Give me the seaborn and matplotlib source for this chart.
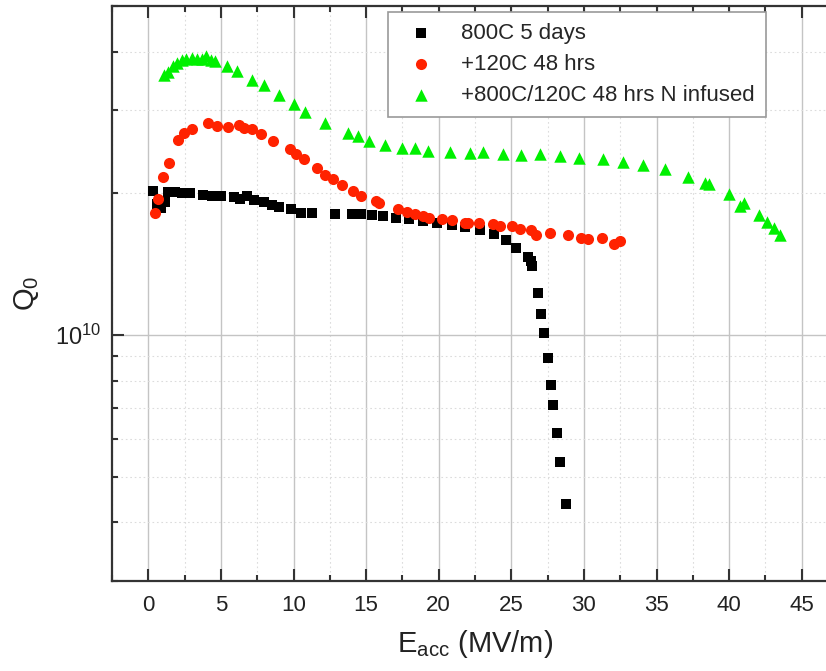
import seaborn as sns
import matplotlib
matplotlib.use("Agg")
import matplotlib.pyplot as plt
import matplotlib.ticker as mticker
import pandas as pd
import numpy as np

sns.set_theme(style="ticks")
plt.rcParams['font.family'] = ['Liberation Sans', 'DejaVu Sans']
plt.rcParams['mathtext.fontset'] = 'custom'
plt.rcParams['mathtext.rm'] = 'Liberation Sans'
plt.rcParams['mathtext.it'] = 'Liberation Sans:italic'

# 800C 5 days
e_800 = [0.31, 0.59, 0.86, 1.14, 1.34, 1.83, 2.31, 2.86, 3.78, 4.38, 5.00, 5.89,
         6.31, 6.79, 7.27, 7.96, 8.51, 8.99, 9.82, 10.51, 11.27, 12.85, 14.00,
         14.65, 15.38, 16.18, 17.06, 17.93, 18.94, 19.86, 20.90, 21.81, 22.85,
         23.78, 24.64, 25.33, 26.18, 26.36, 26.41, 26.82, 27.07, 27.27, 27.51,
         27.74, 27.90, 28.13, 28.37, 28.74]
q_800 = [2.019, 1.894, 1.858, 1.913, 2.009, 2.012, 2.006, 1.999, 1.984, 1.975,
         1.970, 1.960, 1.948, 1.977, 1.932, 1.913, 1.885, 1.871, 1.848, 1.820,
         1.813, 1.808, 1.808, 1.808, 1.797, 1.789, 1.775, 1.760, 1.746, 1.729,
         1.715, 1.697, 1.675, 1.635, 1.589, 1.531, 1.466, 1.434, 1.401, 1.230,
         1.110, 1.010, 0.8954, 0.7830, 0.7090, 0.6185, 0.5360, 0.4364]

# +120C 48 hrs
e_120 = [0.45, 0.68, 0.98, 1.43, 2.03, 2.45, 3.01, 4.12, 4.74, 5.50, 6.26, 6.57,
         7.15, 7.77, 8.56, 9.77, 10.19, 10.72, 11.59, 12.20, 12.75, 13.35, 14.07,
         14.63, 15.67, 15.90, 17.18, 17.85, 18.40, 18.90, 19.33, 20.26, 20.90,
         21.81, 22.04, 22.76, 23.74, 24.22, 25.05, 25.57, 26.36, 26.73, 27.64,
         28.91, 29.81, 30.31, 31.25, 32.08, 32.49]
q_120 = [1.813, 1.942, 2.168, 2.318, 2.591, 2.681, 2.745, 2.815, 2.778, 2.767,
         2.788, 2.751, 2.738, 2.668, 2.582, 2.479, 2.419, 2.366, 2.262, 2.188,
         2.144, 2.081, 2.027, 1.973, 1.925, 1.904, 1.852, 1.827, 1.804, 1.789,
         1.775, 1.760, 1.752, 1.730, 1.726, 1.732, 1.718, 1.705, 1.701, 1.682,
         1.672, 1.630, 1.650, 1.628, 1.610, 1.602, 1.610, 1.564, 1.583]

# +800C/120C 48 hrs N infused
e_nin = [1.07, 1.34, 1.71, 1.98, 2.29, 2.63, 2.98, 3.32, 3.67, 3.96, 4.29, 4.58,
         5.39, 6.08, 7.17, 7.99, 9.01, 10.03, 10.77, 12.18, 13.77, 14.46, 15.20,
         16.30, 17.47, 18.37, 19.26, 20.81, 22.16, 23.07, 24.43, 25.67, 27.00,
         28.36, 29.67, 31.34, 32.72, 34.10, 35.60, 37.20, 38.35, 38.63, 39.96,
         40.77, 41.04, 42.03, 42.61, 43.06, 43.52]
q_nin = [3.559, 3.624, 3.720, 3.775, 3.836, 3.862, 3.882, 3.850, 3.862, 3.906,
         3.836, 3.817, 3.720, 3.629, 3.482, 3.390, 3.239, 3.093, 2.981, 2.825,
         2.690, 2.642, 2.585, 2.532, 2.491, 2.491, 2.463, 2.449, 2.431, 2.443,
         2.429, 2.417, 2.419, 2.404, 2.380, 2.360, 2.334, 2.300, 2.248, 2.170,
         2.106, 2.094, 1.996, 1.876, 1.904, 1.796, 1.739, 1.690, 1.632]

labels = ["800C 5 days", "+120C 48 hrs", "+800C/120C 48 hrs N infused"]

fig = plt.figure(figsize=(8.26, 6.71), dpi=100)
W, H = 826, 671
ax = fig.add_axes([112 / W, (H - 581) / H, (838 - 112) / W, (581 - 6) / H])

series = [
    (e_800, q_800, labels[0], 's', 'black', 50),
    (e_120, q_120, labels[1], 'o', '#ff2200', 64),
    (e_nin, q_nin, labels[2], '^', '#00f000', 80),
]
for e, q, lab, m, c, s in series:
    df = pd.DataFrame({"Eacc": e, "Q0": np.array(q) * 1e10})
    sns.scatterplot(data=df, x="Eacc", y="Q0", marker=m, color=c, s=s,
                    linewidth=0, label=lab, ax=ax, zorder=3)

ax.set_yscale('log')
ax.set_xlim(-2.5, 47.5)
ax.set_ylim(3e9, 5e10)

ax.xaxis.set_major_locator(mticker.MultipleLocator(5))
ax.xaxis.set_minor_locator(mticker.MultipleLocator(2.5))
ax.yaxis.set_major_locator(mticker.LogLocator(base=10, numticks=10))
ax.yaxis.set_minor_locator(mticker.LogLocator(base=10, subs=np.arange(2, 10), numticks=20))
ax.yaxis.set_minor_formatter(mticker.NullFormatter())

ax.set_axisbelow(True)
ax.grid(which='major', color='#c4c4c4', linewidth=1.0, linestyle='-')
ax.grid(which='minor', color='#dcdcdc', linewidth=0.8, linestyle=(0, (1.5, 2.5)))

ax.tick_params(which='both', direction='in', top=True, right=True,
               colors='#333333', labelcolor='#222222', labelsize=16)
ax.tick_params(which='major', length=8.5, width=1.5)
ax.tick_params(which='minor', length=4.5, width=1.5)
ax.tick_params(axis='x', which='major', pad=10)
ax.tick_params(axis='y', which='major', pad=8, labelsize=17)
for sp in ax.spines.values():
    sp.set_linewidth(1.6)
    sp.set_color('#333333')

ax.set_xlabel(r"E$_{\mathrm{acc}}$ (MV/m)", fontsize=21, color='#222222', labelpad=9)
ax.set_ylabel(r"Q$_{0}$", fontsize=21, color='#222222', labelpad=10)

leg = ax.legend(loc='upper left', bbox_to_anchor=(0.38, 0.99), fontsize=16,
                frameon=True, fancybox=False, framealpha=1, edgecolor='#999999',
                labelspacing=0.45, borderpad=0.5, borderaxespad=0)
leg.get_frame().set_linewidth(1.2)

fig.savefig("out.png", dpi=100)
